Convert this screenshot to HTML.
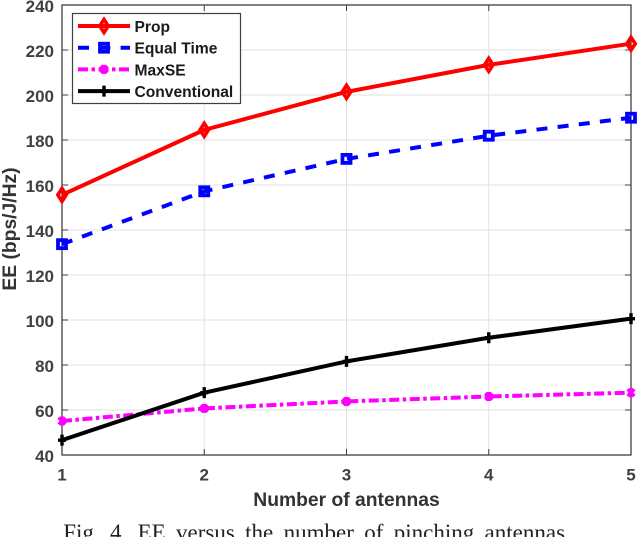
<!DOCTYPE html>
<html>
<head>
<meta charset="utf-8">
<style>
html,body{margin:0;padding:0;background:#fff;width:640px;height:537px;overflow:hidden}
svg{display:block;font-family:"Liberation Sans",sans-serif}
</style>
</head>
<body>
<svg id="chart" width="640" height="537" viewBox="0 0 640 537" xmlns="http://www.w3.org/2000/svg"></svg>
<script>
const xCategories = [1, 2, 3, 4, 5];
const yTicks = [40, 60, 80, 100, 120, 140, 160, 180, 200, 220, 240];
const propValues = [155.6, 184.5, 201.4, 213.4, 222.8];
const equalTimeValues = [133.7, 157.2, 171.6, 181.9, 189.9];
const maxSEValues = [55.1, 60.7, 63.8, 66.0, 67.7];
const conventionalValues = [46.6, 67.7, 81.6, 92.1, 100.6];

const svg = document.getElementById('chart');
const NS = 'http://www.w3.org/2000/svg';
const L = 62, R = 631, T = 5, B = 455;
const xMin = 1, xMax = 5, yMin = 40, yMax = 240;
function sx(v){ return L + (v - xMin) / (xMax - xMin) * (R - L); }
function sy(v){ return B - (v - yMin) / (yMax - yMin) * (B - T); }
function mk(tag, attrs, parent){
  const e = document.createElementNS(NS, tag);
  for (const k in attrs) e.setAttribute(k, attrs[k]);
  (parent || svg).appendChild(e);
  return e;
}
const axisColor = '#404040';

// grid
xCategories.forEach(function(v){
  const g = mk('line', {x1: sx(v), x2: sx(v), y1: T, y2: B, stroke: '#e2e2e2', 'stroke-width': 1});
  
  
});
yTicks.forEach(function(v){
  const g = mk('line', {x1: L, x2: R, y1: sy(v), y2: sy(v), stroke: '#e2e2e2', 'stroke-width': 1});
  
  
});

// axes box
const box = mk('rect', {x: L, y: T, width: R - L, height: B - T, fill: 'none', stroke: axisColor, 'stroke-width': 1.3});



// ticks and labels
xCategories.forEach(function(v){
  mk('line', {x1: sx(v), x2: sx(v), y1: B, y2: B - 6, stroke: axisColor, 'stroke-width': 1});
  mk('line', {x1: sx(v), x2: sx(v), y1: T, y2: T + 6, stroke: axisColor, 'stroke-width': 1});
  const t = mk('text', {x: sx(v), y: 480.5, 'text-anchor': 'middle', 'font-size': 17, 'font-weight': 'bold', fill: axisColor});
  t.textContent = v;
  
  
});
yTicks.forEach(function(v){
  mk('line', {x1: L, x2: L + 6, y1: sy(v), y2: sy(v), stroke: axisColor, 'stroke-width': 1});
  mk('line', {x1: R, x2: R - 6, y1: sy(v), y2: sy(v), stroke: axisColor, 'stroke-width': 1});
  const t = mk('text', {x: 54, y: sy(v) + 7, 'text-anchor': 'end', 'font-size': 17, 'font-weight': 'bold', fill: axisColor});
  t.textContent = v;
  
  
});

// markers
function marker(kind, x, y, color, parent){
  if (kind === 'diamond') {
    mk('path', {d: 'M' + x + ' ' + (y - 6.5) + 'L' + (x + 4.2) + ' ' + y + 'L' + x + ' ' + (y + 6.5) + 'L' + (x - 4.2) + ' ' + y + 'Z', fill: 'none', stroke: color, 'stroke-width': 3.6}, parent);
  } else if (kind === 'square') {
    mk('rect', {x: x - 4, y: y - 4, width: 8, height: 8, fill: 'none', stroke: color, 'stroke-width': 3.8}, parent);
  } else if (kind === 'x') {
    mk('path', {d: 'M' + (x - 3.2) + ' ' + (y - 3.5) + 'L' + (x + 3.2) + ' ' + (y + 3.5) + 'M' + (x + 3.2) + ' ' + (y - 3.5) + 'L' + (x - 3.2) + ' ' + (y + 3.5) + 'M' + x + ' ' + (y - 4.5) + 'L' + x + ' ' + (y + 4.5), fill: 'none', stroke: color, 'stroke-width': 3.6}, parent);
  } else {
    mk('path', {d: 'M' + (x - 4) + ' ' + y + 'L' + (x + 4) + ' ' + y + 'M' + x + ' ' + (y - 5.5) + 'L' + x + ' ' + (y + 5.5), fill: 'none', stroke: color, 'stroke-width': 3.4}, parent);
  }
}

// series
function drawSeries(values, color, dash, kind, name){
  const g = mk('g', {});
  
  
  const pts = values.map(function(v, i){ return sx(xCategories[i]) + ',' + sy(v); }).join(' ');
  const attrs = {points: pts, fill: 'none', stroke: color, 'stroke-width': 4, 'stroke-linejoin': 'round'};
  if (dash) attrs['stroke-dasharray'] = dash;
  mk('polyline', attrs, g);
  values.forEach(function(v, i){ marker(kind, sx(xCategories[i]), sy(v), color, g); });
}
drawSeries(propValues, '#ff0000', '', 'diamond', 'series-prop');
drawSeries(equalTimeValues, '#0000ff', '11 10.3', 'square', 'series-equal-time');
drawSeries(maxSEValues, '#ff00ff', '10 3.5 3.5 3.5', 'x', 'series-maxse');
drawSeries(conventionalValues, '#000000', '', 'plus', 'series-conventional');

// legend
const lg = mk('g', {});


mk('rect', {x: 72.5, y: 13.5, width: 168, height: 90, fill: '#fff', stroke: axisColor, 'stroke-width': 1.2}, lg);
const legendLabels = ['Prop', 'Equal Time', 'MaxSE', 'Conventional'];
const legendColors = ['#ff0000', '#0000ff', '#ff00ff', '#000000'];
const legendDashes = ['', '11 10.3', '10 3.5 3.5 3.5', ''];
const legendKinds = ['diamond', 'square', 'x', 'plus'];
legendLabels.forEach(function(label, i){
  const y = 26 + i * 21.7;
  const e = mk('g', {}, lg);
  
  
  const a = {x1: 78, x2: 130, y1: y, y2: y, stroke: legendColors[i], 'stroke-width': 4};
  if (legendDashes[i]) a['stroke-dasharray'] = legendDashes[i];
  mk('line', a, e);
  marker(legendKinds[i], 104, y, legendColors[i], e);
  const t = mk('text', {x: 134.5, y: y + 6, 'font-size': 15.6, 'font-weight': 'bold', fill: '#1a1a1a'}, e);
  t.textContent = label;
});

// titles
const xt = mk('text', {x: 346.5, y: 506, 'text-anchor': 'middle', 'font-size': 19.3, 'font-weight': 'bold', fill: '#333'});
xt.textContent = 'Number of antennas';


const yt = mk('text', {x: 0, y: 0, transform: 'translate(16 229) rotate(-90)', 'text-anchor': 'middle', 'font-size': 19.3, 'font-weight': 'bold', fill: '#333'});
yt.textContent = 'EE (bps/J/Hz)';


const cap = mk('text', {x: 317, y: 540, 'text-anchor': 'middle', 'font-size': 23, fill: '#222', 'word-spacing': 4.6});
cap.style.fontFamily = '"Liberation Serif", serif';
cap.textContent = 'Fig. 4. EE versus the number of pinching antennas.';


</script>
</body>
</html>
